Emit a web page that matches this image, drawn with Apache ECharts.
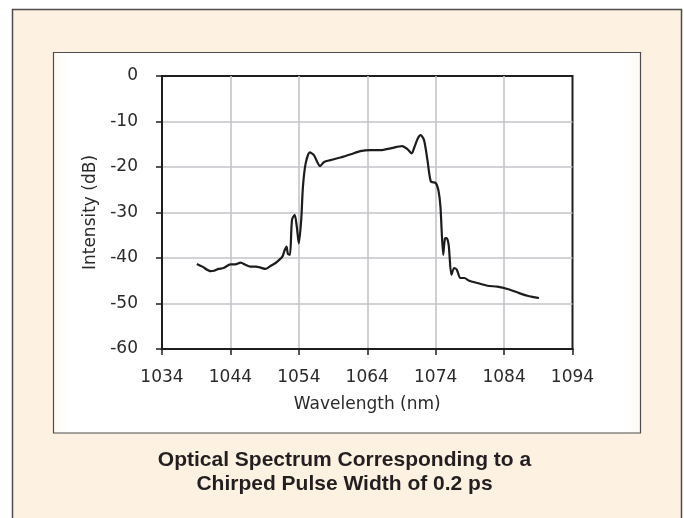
<!DOCTYPE html>
<html>
<head>
<meta charset="utf-8">
<script src="https://cdn.jsdelivr.net/npm/echarts@6/dist/echarts.min.js"></script>
<style>
html,body{margin:0;padding:0;background:#ffffff;}
#c{width:684px;height:518px;}
</style>
</head>
<body>
<div id="c"></div>
<script>
// Data
var wavelengths = [1039.1,1039.9,1041.1,1041.6,1042.3,1043.0,1044.0,1044.7,1045.5,1046.2,1046.9,1047.7,1048.4,1049.1,1049.9,1050.6,1051.2,1051.6,1051.9,1052.2,1052.4,1052.7,1053.0,1053.4,1053.7,1054.0,1054.35,1054.6,1055.0,1055.6,1056.2,1057.1,1057.7,1058.6,1060.1,1061.6,1063.0,1064.5,1066.0,1067.4,1069.1,1069.9,1070.5,1070.9,1071.4,1071.8,1072.3,1072.8,1073.3,1074.0,1074.4,1074.7,1075.1,1075.35,1075.6,1075.9,1076.3,1076.7,1077.1,1077.6,1078.2,1078.9,1080.1,1081.6,1083.0,1084.5,1086.0,1087.4,1088.4,1089.1];
var intensities = [-41.3,-41.9,-42.9,-42.8,-42.4,-42.2,-41.4,-41.4,-41.0,-41.5,-41.9,-41.9,-42.1,-42.4,-41.7,-41.1,-40.3,-39.7,-38.4,-37.5,-39.1,-39.3,-31.6,-30.5,-33.1,-36.8,-31.6,-24.3,-19.2,-16.8,-17.4,-19.8,-18.9,-18.5,-17.9,-17.2,-16.5,-16.3,-16.3,-15.9,-15.4,-16.1,-17.0,-15.6,-13.7,-13.0,-14.1,-18.5,-23.2,-23.5,-25.1,-28.7,-39.3,-35.7,-35.6,-37.1,-43.7,-42.2,-42.6,-44.4,-44.4,-45.0,-45.5,-46.1,-46.3,-46.8,-47.6,-48.3,-48.6,-48.8];
var xTicks = {min:1034, max:1094, step:10};
var yTicks = {min:-60, max:0, step:10};
var xName = 'Wavelength (nm)';
var yName = 'Intensity (dB)';
var caption = 'Optical Spectrum Corresponding to a\nChirped Pulse Width of 0.2 ps';

var points = wavelengths.map(function(w,i){return [w,intensities[i]];});

var chart = echarts.init(document.getElementById('c'), null, {renderer:'canvas'});
var labelFont = {color:'#2a2a2a', fontFamily:'DejaVu Sans', fontSize:17};
chart.setOption({
  animation:false,
  graphic:[
    {type:'rect', z:-10, silent:true, shape:{x:12.5,y:9.5,width:669,height:600},
     style:{fill:'#fdf1e1', stroke:'#4d4d4d', lineWidth:1.5}},
    {type:'rect', z:-9, silent:true, shape:{x:53.5,y:52.5,width:587,height:380.5},
     style:{fill:new echarts.graphic.LinearGradient(0,0,1,0,[
       {offset:0,color:'#fdfaf4'},{offset:0.03,color:'#ffffff'},
       {offset:0.97,color:'#ffffff'},{offset:1,color:'#fdfaf4'}]),
       stroke:'#4d4d4d', lineWidth:1.2}},
    {type:'text', z:10, silent:true,
     style:{text:caption, x:344.5, y:448.5, textAlign:'center', textVerticalAlign:'top',
       fontFamily:'Liberation Sans', fontWeight:'bold', fontSize:21, lineHeight:24, fill:'#231f20'}}
  ],
  grid:{left:162, right:111.5, top:76, bottom:169, show:true, borderColor:'#1e1e1e', borderWidth:2, backgroundColor:'transparent'},
  xAxis:{
    type:'value', min:xTicks.min, max:xTicks.max, interval:xTicks.step,
    name:xName, nameLocation:'middle', nameGap:47,
    nameTextStyle:labelFont,
    axisLine:{show:true, onZero:false, lineStyle:{color:'#1e1e1e', width:2}},
    axisTick:{show:true, inside:false, length:6, lineStyle:{color:'#1e1e1e', width:1.5}},
    axisLabel:Object.assign({margin:20, formatter:function(v){return String(v);}}, labelFont),
    splitLine:{show:true, showMinLine:false, showMaxLine:false, lineStyle:{color:'#c6c3ca', width:1.6}}
  },
  yAxis:{
    type:'value', min:yTicks.min, max:yTicks.max, interval:yTicks.step,
    name:yName, nameLocation:'middle', nameGap:58, nameRotate:90,
    nameTextStyle:labelFont,
    axisLine:{show:true, onZero:false, lineStyle:{color:'#1e1e1e', width:2}},
    axisTick:{show:true, inside:false, length:6, lineStyle:{color:'#1e1e1e', width:1.5}},
    axisLabel:Object.assign({margin:24, formatter:function(v){return String(v);}}, labelFont),
    splitLine:{show:true, showMinLine:false, showMaxLine:false, lineStyle:{color:'#c6c3ca', width:1.6}}
  },
  series:[{
    type:'line', data:points, showSymbol:false, symbol:'none', smooth:0.25,
    lineStyle:{color:'#1c1c1c', width:2.2}, z:5
  }]
});
</script>
</body>
</html>
